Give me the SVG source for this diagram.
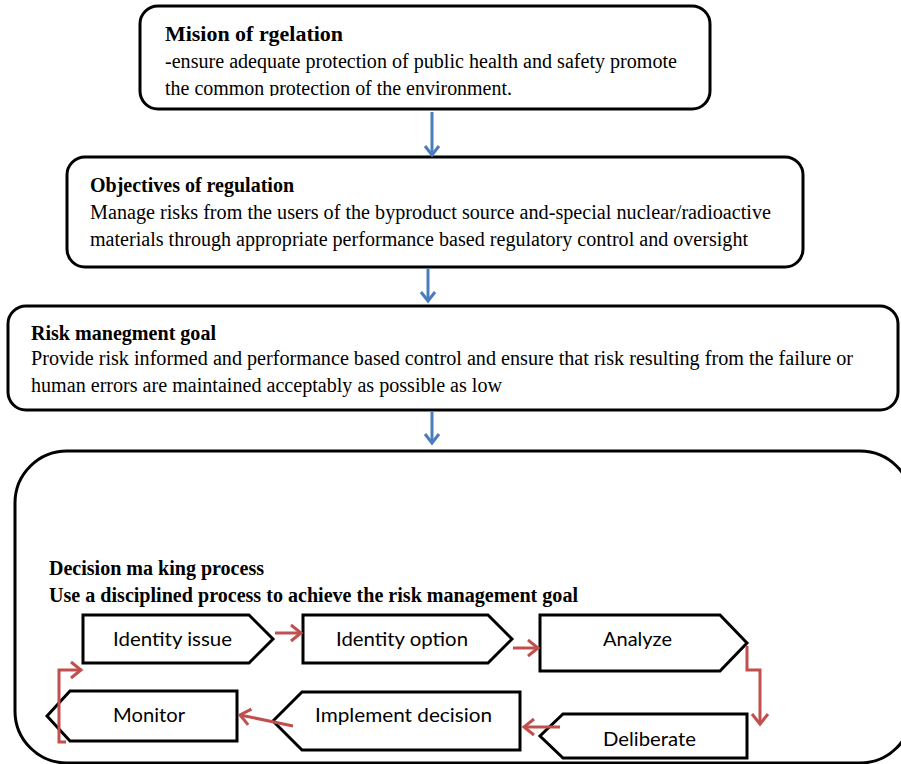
<svg xmlns="http://www.w3.org/2000/svg" width="901" height="764" viewBox="0 0 901 764">
<style>
.box{fill:#fff;stroke:#000;stroke-width:3}
.sh{fill:#fff;stroke:#000;stroke-width:3;stroke-linejoin:miter}
.t{font-family:"Liberation Serif","Times New Roman",serif;fill:#000;font-size:20px}
.b{font-weight:bold}
.s{font-family:Lato,"Noto Sans",sans-serif;font-size:19px;fill:#000}
.blue{fill:none;stroke:#4A7EBB;stroke-width:3;marker-end:url(#mb)}
.red{fill:none;stroke:#C0504D;stroke-width:3;marker-end:url(#mr)}
</style>
<defs>
<marker id="mb" markerUnits="userSpaceOnUse" viewBox="-12 -10 14 20" refX="0" refY="0" markerWidth="14" markerHeight="20" orient="auto" overflow="visible">
<path d="M-9,-7 L0,0 L-9,7" fill="none" stroke="#4A7EBB" stroke-width="3"/>
</marker>
<marker id="mr" markerUnits="userSpaceOnUse" viewBox="-12 -10 14 20" refX="0" refY="0" markerWidth="14" markerHeight="20" orient="auto" overflow="visible">
<path d="M-10,-8 L0,0 L-10,8" fill="none" stroke="#C0504D" stroke-width="3"/>
</marker>
<clipPath id="c1"><rect x="140" y="6" width="570" height="90"/></clipPath>
</defs>

<g id="mission">
<rect class="box" x="140" y="6" width="570" height="103" rx="18"/>
<text class="t b" x="165" y="41" textLength="178" lengthAdjust="spacingAndGlyphs">Mision of rgelation</text>
<text class="t" x="165" y="68" textLength="512" lengthAdjust="spacingAndGlyphs">-ensure adequate protection of public health and safety promote</text>
<text class="t" x="165" y="95" textLength="347" lengthAdjust="spacingAndGlyphs" clip-path="url(#c1)">the common protection of the environment.</text>
</g>

<g id="objectives">
<rect class="box" x="67" y="157" width="736" height="110" rx="18"/>
<text class="t b" x="90" y="192" textLength="204" lengthAdjust="spacingAndGlyphs">Objectives of regulation</text>
<text class="t" x="90" y="219" textLength="681" lengthAdjust="spacingAndGlyphs">Manage risks from the users of the byproduct source and-special nuclear/radioactive</text>
<text class="t" x="90" y="246" textLength="658" lengthAdjust="spacingAndGlyphs">materials through appropriate performance based regulatory control and oversight</text>
</g>

<g id="riskgoal">
<rect class="box" x="8" y="306" width="890" height="104" rx="18"/>
<text class="t b" x="31" y="340" textLength="185" lengthAdjust="spacingAndGlyphs">Risk manegment goal</text>
<text class="t" x="31" y="365" textLength="822" lengthAdjust="spacingAndGlyphs">Provide risk informed and performance based control and ensure that risk resulting from the failure or</text>
<text class="t" x="31" y="392" textLength="471" lengthAdjust="spacingAndGlyphs">human errors are maintained acceptably as possible as low</text>
</g>

<g id="decision">
<rect class="box" x="15" y="451" width="897" height="312" rx="52"/>
<text class="t b" x="49" y="575" textLength="215" lengthAdjust="spacingAndGlyphs">Decision ma king process</text>
<text class="t b" x="49" y="602" textLength="529" lengthAdjust="spacingAndGlyphs">Use a disciplined process to achieve the risk management goal</text>
</g>

<g id="identify-issue">
<path class="sh" d="M83,615 H249 L273,639 L249,663 H83 Z"/>
<text class="s" x="113" y="646" textLength="119" lengthAdjust="spacingAndGlyphs">Identity issue</text>
</g>
<g id="identify-option">
<path class="sh" d="M303,615 H488 L512,639 L488,663 H303 Z"/>
<text class="s" x="336" y="646" textLength="132" lengthAdjust="spacingAndGlyphs">Identity option</text>
</g>
<g id="analyze">
<path class="sh" d="M540,615 H720 L747,643 L720,671 H540 Z"/>
<text class="s" x="603" y="646" textLength="69" lengthAdjust="spacingAndGlyphs">Analyze</text>
</g>
<g id="deliberate">
<path class="sh" d="M563,714 H747 V758 H563 L540,736 Z"/>
<text class="s" x="603" y="746" textLength="93" lengthAdjust="spacingAndGlyphs">Deliberate</text>
</g>
<g id="implement">
<path class="sh" d="M302,692 H520 V750 H302 L273,721 Z"/>
<text class="s" x="315" y="722" textLength="177" lengthAdjust="spacingAndGlyphs">Implement decision</text>
</g>
<g id="monitor">
<path class="sh" d="M70,691 H237 V741 H70 L47,716 Z"/>
<text class="s" x="113" y="722" textLength="72" lengthAdjust="spacingAndGlyphs">Monitor</text>
</g>

<g id="connectors">
<path class="blue" d="M432,112 V155"/>
<path class="blue" d="M428,268 V301"/>
<path class="blue" d="M432,412 V443"/>
<path class="red" d="M275,633 H301"/>
<path class="red" d="M513,648 H538"/>
<path class="red" d="M747,646 V670 H760 V724"/>
<path class="red" d="M560,727 H524"/>
<path class="red" d="M293,726 L240,715"/>
<path class="red" d="M66,742 H59 V670 H81"/>
</g>
</svg>
